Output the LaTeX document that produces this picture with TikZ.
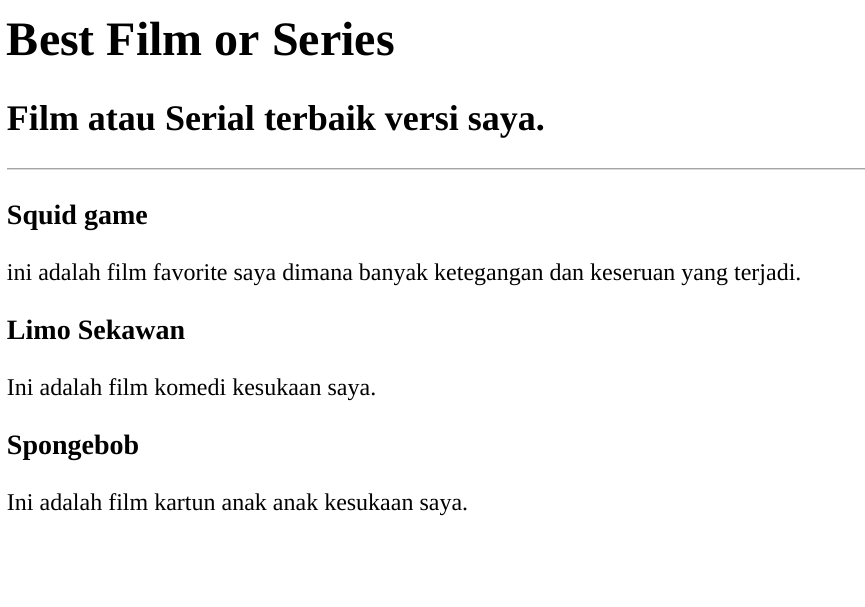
\documentclass[tikz,border=0pt]{standalone}
\usepackage{fontspec}
\setmainfont{Liberation Serif}
\begin{document}
\begin{tikzpicture}[x=0.75pt,y=-0.75pt,
  txt/.style={anchor=base west,inner sep=0pt,outer sep=0pt},
  hone/.style={txt,font=\fontsize{36pt}{40pt}\selectfont\bfseries},
  htwo/.style={txt,font=\fontsize{27pt}{31pt}\selectfont\bfseries},
  hthree/.style={txt,font=\fontsize{21pt}{25pt}\selectfont\bfseries},
  para/.style={txt,font=\fontsize{18pt}{21pt}\selectfont}]
\useasboundingbox[fill=white] (0,0) rectangle (865,607);
\node[hone] (h1) at (7,55.5) {Best Film or Series};
\node[htwo] (h2) at (7,130.5) {Film atau Serial terbaik versi saya.};
\draw[color=black!35,line width=0.75pt] (7,168.5) -- (865,168.5);
\draw[color=black!15,line width=0.75pt] (7,169.5) -- (865,169.5);
\node[hthree] (s1) at (7,224.5) {Squid game};
\node[para] (p1) at (7,280.3) {ini adalah film favorite saya dimana banyak ketegangan dan keseruan yang terjadi.};
\node[hthree] (s2) at (7,339.5) {Limo Sekawan};
\node[para] (p2) at (7,395.3) {Ini adalah film komedi kesukaan saya.};
\node[hthree] (s3) at (7,454.5) {Spongebob};
\node[para] (p3) at (7,510.3) {Ini adalah film kartun anak anak kesukaan saya.};
\end{tikzpicture}
\end{document}
